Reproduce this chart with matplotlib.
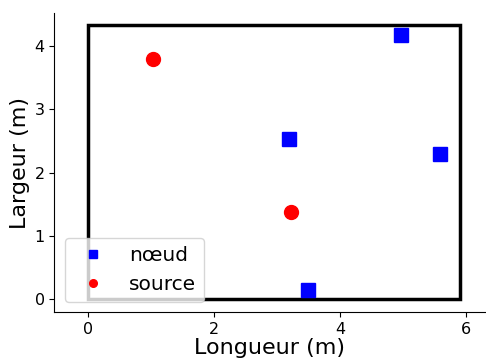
import matplotlib
matplotlib.use("Agg")
import matplotlib.pyplot as plt
from matplotlib.patches import Rectangle

# room outline (m)
ROOM_W = 5.9
ROOM_H = 4.33

# node positions
NODE_X = [4.97, 3.19, 5.58, 3.48]
NODE_Y = [4.18, 2.54, 2.29, 0.14]

# source positions
SRC_X = [1.03, 3.21]
SRC_Y = [3.80, 1.38]

fig = plt.figure(figsize=(4.86, 3.6), dpi=100)
ax = fig.add_axes([0.112, 0.1325, 0.886, 0.832])

ax.add_patch(Rectangle((0, 0), ROOM_W, ROOM_H, fill=False,
                       edgecolor="black", linewidth=2.5))
ax.plot(NODE_X, NODE_Y, "s", color="blue", markersize=10, label="nœud")
ax.plot(SRC_X, SRC_Y, "o", color="red", markersize=10, label="source")

ax.set_xlim(-0.54, 6.3)
ax.set_ylim(-0.21, 4.53)
ax.set_xticks([0, 2, 4, 6])
ax.set_yticks([0, 1, 2, 3, 4])
ax.tick_params(labelsize=11.5)
ax.set_xlabel("Longueur (m)", fontsize=16, labelpad=1)
ax.set_ylabel("Largeur (m)", fontsize=16, labelpad=3)
ax.spines["top"].set_visible(False)
ax.spines["right"].set_visible(False)

ax.legend(loc="lower left", fontsize=14.5, markerscale=0.55)

fig.savefig("out.png", dpi=100)
